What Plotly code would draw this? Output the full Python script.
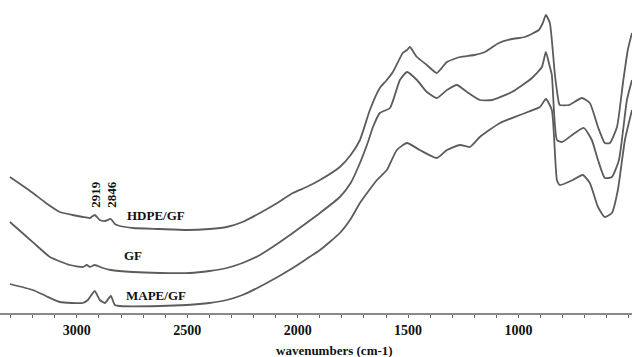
import plotly.graph_objects as go

# Wavenumbers (cm-1) and relative transmittance (a.u.)
hdpe_wn = [3303, 3250, 3199, 3140, 3077, 3020, 2973, 2941, 2919, 2896, 2873, 2846, 2828, 2805, 2746,
           2624, 2502, 2400, 2321, 2250, 2171, 2100, 2022, 1960, 1899, 1809, 1760, 1718, 1673,
           1628, 1600, 1569, 1524, 1505, 1492, 1460, 1415, 1370, 1324, 1265, 1200, 1152, 1089,
           1030, 971, 908, 890, 876, 858, 835, 817, 813, 772, 713, 677, 640, 609, 586, 554, 527,
           505, 486]
hdpe_t = [136, 128, 120, 110, 101, 98, 96, 95, 98, 93, 92, 94, 89, 87, 85,
          84, 83, 84, 86, 91, 100, 109, 120, 126, 133, 146, 158, 173, 203,
          225, 232, 241, 260, 263, 266, 256, 248, 240, 251, 256, 258, 261, 270,
          274, 276, 283, 290, 298, 290, 238, 210, 208, 208, 215, 210, 186, 170, 170, 186, 230,
          263, 280]

gf_wn = [3303, 3226, 3170, 3122, 3070, 3032, 2973, 2955, 2941, 2919, 2882, 2846, 2746, 2624,
         2488, 2400, 2321, 2250, 2171, 2100, 2022, 1960, 1899, 1809, 1760, 1718, 1680, 1659,
         1628, 1582, 1537, 1505, 1460, 1415, 1370, 1324, 1279, 1233, 1175, 1120, 1030, 939,
         894, 876, 858, 849, 826, 803, 745, 704, 668, 640, 609, 577, 545, 509, 486]
gf_t = [91, 76, 65, 56, 51, 48, 46, 48, 46, 48, 45, 43, 41, 40,
        40, 42, 45, 50, 58, 68, 80, 90, 100, 116, 130, 150, 172, 186,
        200, 205, 233, 241, 233, 221, 215, 223, 228, 221, 213, 213, 221, 235,
        246, 261, 246, 238, 173, 171, 180, 185, 173, 153, 135, 136, 153, 213, 233]

mape_wn = [3303, 3199, 3140, 3077, 2973, 2950, 2919, 2896, 2873, 2846, 2828, 2805, 2624, 2502,
           2400, 2321, 2250, 2140, 2022, 1960, 1899, 1809, 1760, 1718, 1641, 1596, 1551, 1505,
           1447, 1370, 1324, 1265, 1220, 1175, 1084, 994, 903, 876, 849, 826, 813, 754, 709,
           677, 640, 609, 577, 550, 518, 486]
mape_t = [29, 23, 17, 11, 10, 13, 22, 13, 10, 17, 8, 7, 7, 8,
          10, 13, 18, 30, 45, 54, 63, 80, 94, 110, 133, 143, 163, 170,
          163, 155, 163, 168, 166, 176, 190, 198, 206, 214, 203, 133, 128, 133, 138,
          130, 106, 96, 100, 123, 173, 203]

series_names = ["HDPE/GF", "GF", "MAPE/GF"]
peak_labels = ["2919", "2846"]
peak_wn = [2919, 2846]

serif = "Liberation Serif, Times New Roman, serif"
line_color = "#5c5c5c"

fig = go.Figure()
for name, wn, t in [("HDPE/GF", hdpe_wn, hdpe_t), ("GF", gf_wn, gf_t), ("MAPE/GF", mape_wn, mape_t)]:
    fig.add_trace(go.Scatter(x=wn, y=t, mode="lines", name=name,
                             line=dict(color=line_color, width=1.8, shape="spline", smoothing=0.5)))

# curve labels
label_pos = {"HDPE/GF": (2642, 98), "GF": (2746, 58), "MAPE/GF": (2642, 18)}
for name in series_names:
    xw, yv = label_pos[name]
    fig.add_annotation(x=xw, y=yv, text=name, showarrow=False, xanchor="center",
                       font=dict(family=serif, size=13, color="#111", weight="bold"))

# peak labels
for lab, w in zip(peak_labels, peak_wn):
    fig.add_annotation(x=w, y=119, text=lab, showarrow=False, textangle=-90,
                       font=dict(family=serif, size=13, color="#111", weight="bold"))

fig.add_annotation(xref="paper", yref="paper", x=0.53, y=-0.12, yanchor="middle",
                   text="wavenumbers (cm-1)", showarrow=False,
                   font=dict(family=serif, size=13, color="#111", weight="bold"))

fig.update_layout(
    width=632, height=357,
    margin=dict(l=0, r=0, t=0, b=44),
    paper_bgcolor="white", plot_bgcolor="white",
    showlegend=False,
    xaxis=dict(range=[3348, 486], tickmode="array", tickvals=[3000, 2500, 2000, 1500, 1000, 500],
               ticktext=["3000", "2500", "2000", "1500", "1000", "500"],
               showgrid=False, zeroline=False, showline=True, linecolor="#8a8a8a", linewidth=2,
               ticks="outside", ticklen=3, tickcolor="#666", automargin=False,
               tickfont=dict(family=serif, size=14, color="#111", weight="bold"),
               minor=dict(dtick=100, tick0=0, ticks="outside", ticklen=3, tickcolor="#666")),
    yaxis=dict(range=[0, 313], visible=False, showgrid=False, zeroline=False),
)

fig.write_html("out.html", config={"displayModeBar": False},
               post_script="document.body.style.margin='0';document.body.style.overflow='hidden';")
